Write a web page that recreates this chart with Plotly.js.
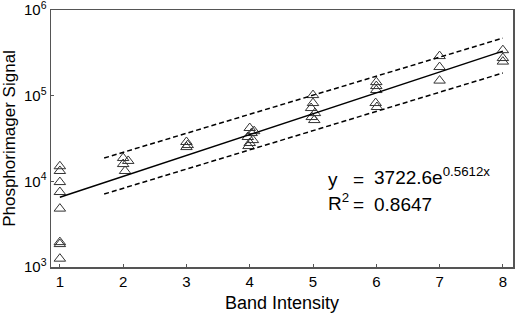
<!DOCTYPE html>
<html><head><meta charset="utf-8">
<script src="https://cdn.plot.ly/plotly-3.0.1.min.js"></script>
<style>html,body{margin:0;padding:0;background:#fff}#chart{width:520px;height:318px}</style>
</head><body><div id="chart"></div>
<script>
// Observed data (band intensity vs phosphorimager signal)
const bandX = [1,1,1,1,1,1,1,1,
  2.0,2.08,2.0,2.03,
  3.0,3.02,3.0,
  4.0,4.03,3.97,4.05,4.0,3.98,4.07,
  5.0,5.0,4.97,5.03,4.98,5.02,
  6.0,6.0,6.0,5.99,6.01,
  7,7,7,
  8,8,8];
const signalY = [15000,13200,9800,7500,4800,1950,1850,1250,
  18700,17300,15900,13200,
  28800,26500,25100,
  41900,36600,32900,30300,28000,25800,38500,
  101600,82000,71700,62600,56300,51900,
  144000,129500,116300,82000,73700,
  290000,216000,150000,
  340000,275000,250000];
// Fit y = a * e^(b x)
const fitA = 3722.6, fitB = 0.5612;
const fitX = [1, 2, 3, 4, 5, 6, 7, 8];
const fitY = fitX.map(x => fitA * Math.exp(fitB * x));
// Dashed bounds
const boundX = [1.7, 8];
const upperY = [18700, 470000];
const lowerY = [7100, 184000];
const yTickVals = [1e3, 1e4, 1e5, 1e6];
const yTickText = ['10<sup>3</sup>','10<sup>4</sup>','10<sup>5</sup>','10<sup>6</sup>'];
const xTickVals = [1,2,3,4,5,6,7,8];

const font = 'Liberation Sans, Arial, Helvetica, sans-serif';
const traces = [
  {x: bandX, y: signalY, type: 'scatter', mode: 'markers',
   marker: {symbol: 'triangle-up-open', size: 10, color: '#333', line: {width: 1, color: '#333'}}},
  {x: fitX, y: fitY, type: 'scatter', mode: 'lines', line: {color: '#000', width: 1.5}},
  {x: boundX, y: upperY, type: 'scatter', mode: 'lines', line: {color: '#000', width: 1.5, dash: '5px,3px'}},
  {x: boundX, y: lowerY, type: 'scatter', mode: 'lines', line: {color: '#000', width: 1.5, dash: '5px,3px'}}
];
const layout = {
  width: 520, height: 318,
  margin: {l: 51, r: 7, t: 10, b: 51},
  showlegend: false,
  paper_bgcolor: '#fff', plot_bgcolor: '#fff',
  font: {family: font, color: '#000', size: 15},
  xaxis: {range: [0.86, 8.16], tickvals: xTickVals, showgrid: false, zeroline: false,
    showline: true, mirror: true, linecolor: '#555', linewidth: 1.5,
    ticks: 'inside', ticklen: 3, tickcolor: '#555',
    tickfont: {size: 15, family: font}, ticklabeloverflow: 'allow',
    title: {text: 'Band Intensity', font: {size: 18, family: font}, standoff: 8}},
  yaxis: {type: 'log', range: [2.9995, 6.0005], tickvals: yTickVals, ticktext: yTickText,
    showgrid: false, zeroline: false,
    showline: true, mirror: true, linecolor: '#555', linewidth: 1.5,
    ticks: 'inside', ticklen: 3, tickcolor: '#555',
    tickfont: {size: 15, family: font}, ticklabeloverflow: 'allow',
    title: {text: 'Phosphorimager Signal', font: {size: 17, family: font}, standoff: 6}},
  annotations: [
    {xref: 'x', yref: 'y', x: 5.2, y: Math.log10(10640), text: 'y', showarrow: false, xanchor: 'left', font: {size: 19, family: font}},
    {xref: 'x', yref: 'y', x: 5.2, y: Math.log10(5700), text: 'R<sup>2</sup>', showarrow: false, xanchor: 'left', font: {size: 19, family: font}},
    {xref: 'x', yref: 'y', x: 5.6, y: Math.log10(10640), text: '=', showarrow: false, xanchor: 'left', font: {size: 19, family: font}},
    {xref: 'x', yref: 'y', x: 5.6, y: Math.log10(5360), text: '=', showarrow: false, xanchor: 'left', font: {size: 19, family: font}},
    {xref: 'x', yref: 'y', x: 5.93, y: Math.log10(11400), text: '3722.6e<sup>0.5612x</sup>', showarrow: false, xanchor: 'left', font: {size: 19, family: font}},
    {xref: 'x', yref: 'y', x: 5.93, y: Math.log10(5360), text: '0.8647', showarrow: false, xanchor: 'left', font: {size: 19, family: font}}
  ]
};
Plotly.newPlot('chart', traces, layout, {staticPlot: true, displayModeBar: false});
</script></body></html>
